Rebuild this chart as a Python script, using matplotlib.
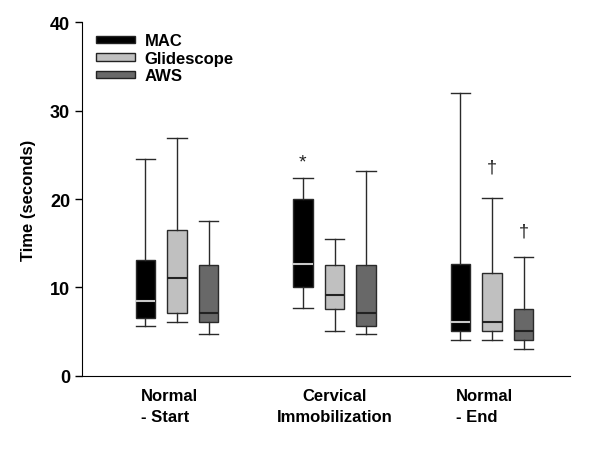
import numpy as np
import matplotlib
matplotlib.use("Agg")
from matplotlib import pyplot as plt
from matplotlib.patches import Patch

plt.rcParams['font.family'] = ['Liberation Sans', 'DejaVu Sans']

groups = ["Normal\n- Start", "Cervical\nImmobilization", "Normal\n- End"]
series = ["MAC", "Glidescope", "AWS"]
colors = ["#000000", "#c0c0c0", "#686868"]
median_colors = ["#c8c8c8", "#222222", "#222222"]

# whisker low, q1, median, q3, whisker high for each group
mac_lo = [5.7, 7.7, 4.1]
mac_q1 = [6.55, 10.1, 5.1]
mac_med = [8.45, 12.6, 6.15]
mac_q3 = [13.1, 20.05, 12.6]
mac_hi = [24.5, 22.4, 32.0]

glide_lo = [6.1, 5.1, 4.1]
glide_q1 = [7.1, 7.6, 5.1]
glide_med = [11.1, 9.15, 6.05]
glide_q3 = [16.55, 12.55, 11.6]
glide_hi = [26.9, 15.5, 20.1]

aws_lo = [4.7, 4.7, 3.1]
aws_q1 = [6.05, 5.6, 4.1]
aws_med = [7.1, 7.1, 5.1]
aws_q3 = [12.55, 12.55, 7.6]
aws_hi = [17.5, 23.2, 13.45]

data = [
    (mac_lo, mac_q1, mac_med, mac_q3, mac_hi),
    (glide_lo, glide_q1, glide_med, glide_q3, glide_hi),
    (aws_lo, aws_q1, aws_med, aws_q3, aws_hi),
]

# significance marks: (group index, series index, y, text)
marks = [(1, 0, 24.2, "*"), (2, 1, 23.6, "\u2020"), (2, 2, 16.4, "\u2020")]

fig = plt.figure(figsize=(6, 4.52), dpi=100)
ax = fig.add_axes([0.1367, 0.166, 0.8133, 0.783])

offset = 0.201
width = 0.124
xpos = np.arange(1, len(groups) + 1)

for s, (lo, q1, med, q3, hi) in enumerate(data):
    stats = []
    for g in range(len(groups)):
        stats.append(dict(whislo=lo[g], q1=q1[g], med=med[g], q3=q3[g],
                          whishi=hi[g], fliers=[]))
    pos = xpos + (s - 1) * offset
    ax.bxp(stats, positions=pos, widths=width, capwidths=width,
           patch_artist=True, showfliers=False, manage_ticks=False,
           boxprops=dict(facecolor=colors[s], edgecolor="#2a2a2a", linewidth=1.0),
           whiskerprops=dict(color="#2a2a2a", linewidth=1.0),
           capprops=dict(color="#2a2a2a", linewidth=1.0),
           medianprops=dict(color=median_colors[s], linewidth=1.5))

for g, s, y, t in marks:
    ax.text(xpos[g] + (s - 1) * offset, y, t, ha="center", va="center",
            fontsize=14 if t == "*" else 13, color="#222222")

ax.set_xlim(0.397, 3.495)
ax.set_ylim(0, 40)
ax.set_yticks([0, 10, 20, 30, 40])
ax.tick_params(axis="y", labelsize=13, length=5, width=1, direction="out")
for lab in ax.get_yticklabels():
    lab.set_fontweight("bold")
ax.set_xticks([])
for g, name in enumerate(groups):
    ax.text(xpos[g] - 0.05 if "Normal" in name else xpos[g], -1.4, name,
            ha="center", va="top", fontsize=12, fontweight="bold",
            multialignment="left" if "Normal" in name else "center",
            linespacing=1.45)

ax.spines["top"].set_visible(False)
ax.spines["right"].set_visible(False)
ax.set_ylabel("Time (seconds)", fontsize=12, fontweight="bold", labelpad=10)

handles = [Patch(facecolor=c, edgecolor="#222222", linewidth=1.0) for c in colors]
ax.legend(handles, series, loc="upper left", bbox_to_anchor=(0.029, 0.968),
          frameon=False, borderpad=0, borderaxespad=0,
          handlelength=2.3, handleheight=0.3, handletextpad=0.6,
          labelspacing=0.15, prop=dict(size=12, weight="bold"))

fig.savefig("out.png", dpi=100)
